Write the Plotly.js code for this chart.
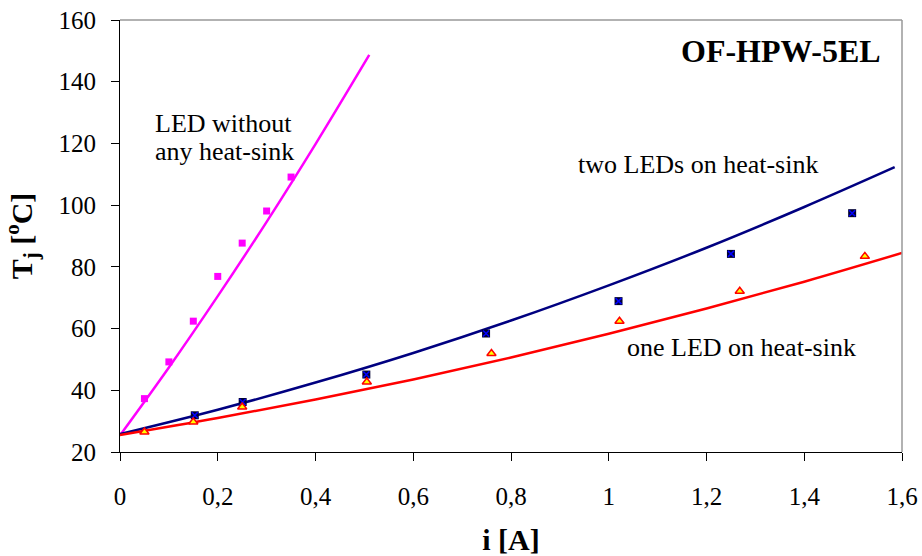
<!DOCTYPE html>
<html>
<head>
<meta charset="utf-8">
<script src="https://cdn.plot.ly/plotly-3.0.1.min.js"></script>
<style>
  html, body { margin: 0; padding: 0; background: #ffffff; }
  #chart { width: 922px; height: 556px; }
</style>
</head>
<body>
<div id="chart"></div>
<script>
// ---- measured points ----
const noSinkI = [0.05, 0.10, 0.15, 0.20, 0.25, 0.30, 0.35];
const noSinkT = [37.3, 49.2, 62.4, 76.9, 87.7, 98.1, 109.1];

const twoLedI = [0.153, 0.251, 0.504, 0.749, 1.02, 1.25, 1.498];
const twoLedT = [31.9, 36.2, 45.1, 58.4, 68.9, 84.2, 97.4];

const oneLedI = [0.05, 0.15, 0.25, 0.505, 0.76, 1.022, 1.268, 1.524];
const oneLedT = [26.5, 29.7, 34.6, 42.7, 51.9, 62.4, 72.1, 83.4];

// ---- trend curves ----
const noSinkFitI = [0, 0.1, 0.2, 0.3, 0.4, 0.51];
const noSinkFitT = [25.4, 47.4, 70.5, 94.6, 119.8, 148.7];

const twoLedFitI = [0, 0.2, 0.4, 0.6, 0.8, 1.0, 1.2, 1.4, 1.585];
const twoLedFitT = [25.8, 33.7, 42.5, 52.1, 62.6, 74.0, 86.2, 99.4, 112.3];

const oneLedFitI = [0, 0.2, 0.4, 0.6, 0.8, 1.0, 1.2, 1.4, 1.6];
const oneLedFitT = [25.5, 31.0, 37.0, 43.5, 50.6, 58.3, 66.5, 75.2, 84.5];

const xTicks = [0, 0.2, 0.4, 0.6, 0.8, 1, 1.2, 1.4, 1.6];
const yTicks = [20, 40, 60, 80, 100, 120, 140, 160];

const FONT = "Liberation Serif, Times New Roman, Times, DejaVu Serif, serif";

const traces = [
  { x: noSinkFitI, y: noSinkFitT, mode: 'lines', line: { color: '#ff00ff', width: 2.5, shape: 'spline' }, hoverinfo: 'skip' },
  { x: twoLedFitI, y: twoLedFitT, mode: 'lines', line: { color: '#000080', width: 2.5, shape: 'spline' }, hoverinfo: 'skip' },
  { x: oneLedFitI, y: oneLedFitT, mode: 'lines', line: { color: '#ff0000', width: 2.5, shape: 'spline' }, hoverinfo: 'skip' },
  { x: noSinkI, y: noSinkT, mode: 'markers', marker: { symbol: 'square', size: 7, color: '#ff00ff' } },
  { x: twoLedI, y: twoLedT, mode: 'markers', marker: { symbol: 'square', size: 8, color: '#000033', line: { width: 0 } } },
  { x: twoLedI, y: twoLedT, mode: 'markers', marker: { symbol: 'x-thin-open', size: 6, color: '#0000ff', line: { width: 1.5, color: '#0000ff' } } },
  { x: oneLedI, y: oneLedT, mode: 'markers', marker: { symbol: 'triangle-up', size: 8, color: '#ffff00', line: { width: 1.5, color: '#ff0000' } } }
];

const ann = (text, x, y, xanchor, size, bold) => ({
  text: bold ? '<b>' + text + '</b>' : text,
  x: x, y: y, xref: 'x', yref: 'y', xanchor: xanchor, yanchor: 'middle',
  showarrow: false, font: { family: FONT, size: size, color: '#000000' }
});

const layout = {
  width: 922, height: 556,
  margin: { l: 120, r: 20, t: 20, b: 104 },
  paper_bgcolor: '#ffffff', plot_bgcolor: '#ffffff',
  showlegend: false,
  separators: ', ',
  font: { family: FONT, size: 25, color: '#000000' },
  xaxis: {
    range: [0, 1.6], tickvals: xTicks, ticks: 'outside', ticklen: 8, tickcolor: '#000000',
    showline: true, linecolor: '#000000', linewidth: 1, showgrid: false, zeroline: false,
    tickfont: { family: FONT, size: 25, color: '#000000' }, ticklabelstandoff: 14,
    title: { text: '<b>i [A]</b>', font: { family: FONT, size: 30, color: '#000000' }, standoff: 22 }
  },
  yaxis: {
    range: [20, 160], tickvals: yTicks, ticks: 'outside', ticklen: 8, tickcolor: '#000000',
    showline: true, linecolor: '#000000', linewidth: 1, showgrid: false, zeroline: false,
    tickfont: { family: FONT, size: 25, color: '#000000' }, ticklabelstandoff: 10,
    title: { text: '<b>T<sub>j</sub> [<sup>o</sup>C]</b>', font: { family: FONT, size: 30, color: '#000000' }, standoff: 18 }
  },
  shapes: [
    { type: 'line', xref: 'paper', yref: 'paper', x0: 0, x1: 1, y0: 1, y1: 1, line: { color: '#999999', width: 1.5 } },
    { type: 'line', xref: 'paper', yref: 'paper', x0: 1, x1: 1, y0: 0, y1: 1, line: { color: '#999999', width: 1.5 } }
  ],
  annotations: [
    ann('OF-HPW-5EL', 1.5605, 150.0, 'right', 32, true),
    ann('LED without', 0.0675, 126.3, 'left', 26, false),
    ann('any heat-sink', 0.0675, 117.5, 'left', 26, false),
    ann('two LEDs on heat-sink', 1.1826, 113.3, 'center', 26, false),
    ann('one LED on heat-sink', 1.2706, 53.8, 'center', 26, false)
  ]
};

Plotly.newPlot('chart', traces, layout, { displayModeBar: false, staticPlot: true });
</script>
</body>
</html>
